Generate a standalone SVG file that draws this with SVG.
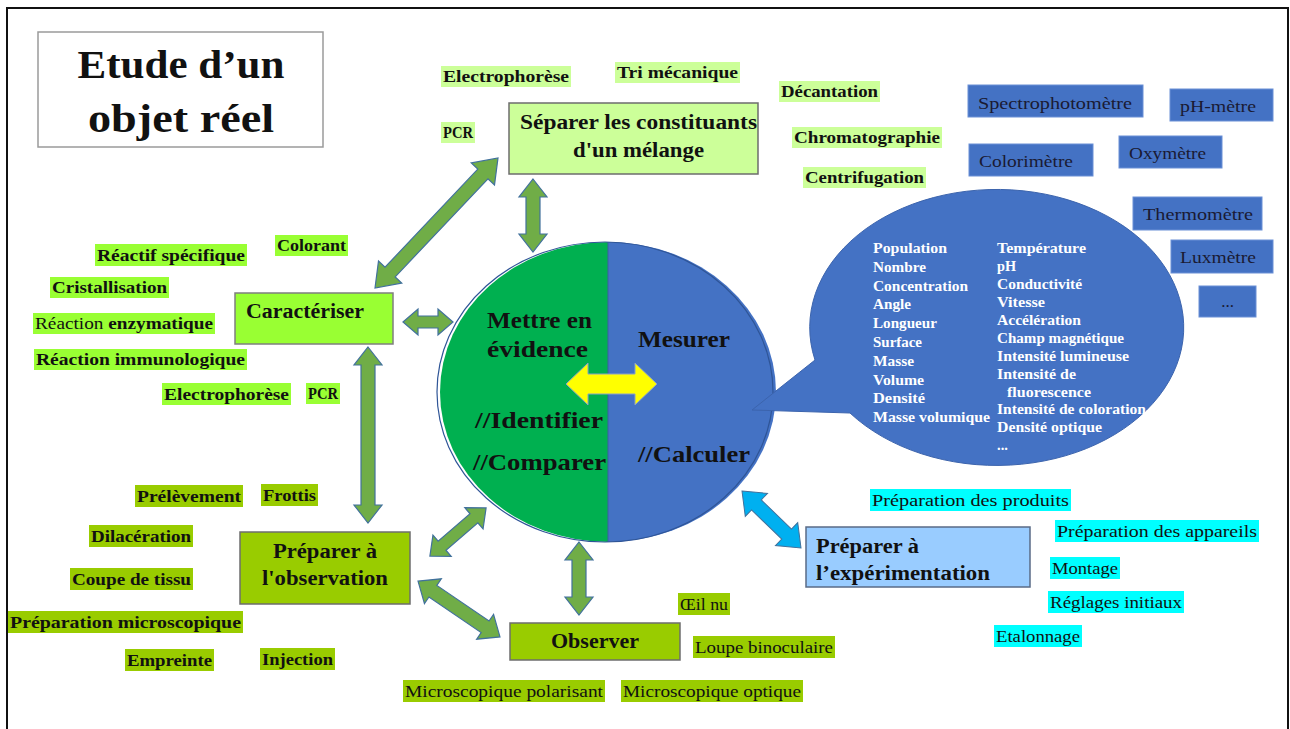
<svg xmlns="http://www.w3.org/2000/svg" width="1290" height="729" viewBox="0 0 1290 729">
<style>
text{font-family:"Liberation Serif","Times New Roman",serif;fill:#111;}
.lbl{font-size:17px;font-weight:bold;}
.lbn{font-size:17px;}
.box{font-size:20px;font-weight:bold;}
.ci{font-size:23px;font-weight:bold;}
.bub{font-size:14.5px;font-weight:bold;fill:#fff;}
.ins{font-size:17px;fill:#1a1a33;}
.ga{fill:#70ad47;stroke:#41719c;stroke-width:1.2;}
.ba{fill:#00b0f0;stroke:#41719c;stroke-width:1;}
.ya{fill:#ffff00;stroke:#8aa0c8;stroke-width:1;}
.hl1{fill:#ccff99;}
.hl2{fill:#99ff33;}
.hl3{fill:#99cc00;}
.hl4{fill:#00ffff;}
.inb{fill:#4472c4;stroke:#6a90d6;stroke-width:1;}
</style>
<rect x="7" y="8" width="1281" height="740" fill="#fff" stroke="#111" stroke-width="2"/>

<g id="title">
<rect x="38" y="32" width="285" height="115" fill="#fff" stroke="#9a9a9a" stroke-width="1.5"/>
<text x="181" y="78" text-anchor="middle" textLength="207" lengthAdjust="spacingAndGlyphs" style="font-size:40px;font-weight:bold">Etude d’un</text>
<text x="181" y="132" text-anchor="middle" textLength="186" lengthAdjust="spacingAndGlyphs" style="font-size:40px;font-weight:bold">objet réel</text>
</g>

<g id="connectors">
<polygon class="ga" transform="translate(436.5,223) rotate(-46.6)" points="-89.5,0 -67.5,-16 -67.5,-7 67.5,-7 67.5,-16 89.5,0 67.5,16 67.5,7 -67.5,7 -67.5,16"/>
<polygon class="ga" transform="translate(533,215.5) rotate(90)" points="-36.5,0 -18.5,-14 -18.5,-7 18.5,-7 18.5,-14 36.5,0 18.5,14 18.5,7 -18.5,7 -18.5,14"/>
<polygon class="ga" transform="translate(428,322)" points="-25,0 -10,-13 -10,-6 10,-6 10,-13 25,0 10,13 10,6 -10,6 -10,13"/>
<polygon class="ga" transform="translate(368,435) rotate(90)" points="-88,0 -70,-14 -70,-7 70,-7 70,-14 88,0 70,14 70,7 -70,7 -70,14"/>
<polygon class="ga" transform="translate(458,532) rotate(-40.6)" points="-37,0 -21,-14 -21,-6 21,-6 21,-14 37,0 21,14 21,6 -21,6 -21,14"/>
<polygon class="ga" transform="translate(459,609) rotate(34.3)" points="-49.6,0 -31.6,-15 -31.6,-7 31.6,-7 31.6,-15 49.6,0 31.6,15 31.6,7 -31.6,7 -31.6,15"/>
<polygon class="ga" transform="translate(579,578.5) rotate(90)" points="-36.5,0 -18.5,-14 -18.5,-7 18.5,-7 18.5,-14 36.5,0 18.5,14 18.5,7 -18.5,7 -18.5,14"/>
<polygon class="ba" transform="translate(771.5,519.5) rotate(44)" points="-41,0 -21,-16 -21,-7 21,-7 21,-16 41,0 21,16 21,7 -21,7 -21,16"/>
</g>

<g id="separer">
<rect x="509" y="103" width="249" height="71" fill="#ccff99" stroke="#6d6d6d" stroke-width="1.5"/>
<text class="box" x="638.5" y="129" text-anchor="middle" textLength="237" lengthAdjust="spacingAndGlyphs">Séparer les constituants</text>
<text class="box" x="638.5" y="157" text-anchor="middle" textLength="131" lengthAdjust="spacingAndGlyphs">d'un mélange</text>
</g>

<g id="separer-labels">
<rect class="hl1" x="441" y="66" width="130" height="21"/><text class="lbl" x="443" y="82" textLength="126" lengthAdjust="spacingAndGlyphs">Electrophorèse</text>
<rect class="hl1" x="615" y="62" width="125" height="21"/><text class="lbl" x="617" y="78" textLength="121" lengthAdjust="spacingAndGlyphs">Tri mécanique</text>
<rect class="hl1" x="779" y="81" width="101" height="21"/><text class="lbl" x="781" y="97" textLength="97" lengthAdjust="spacingAndGlyphs">Décantation</text>
<rect class="hl1" x="441" y="122" width="34" height="21"/><text class="lbl" x="443" y="138" textLength="30" lengthAdjust="spacingAndGlyphs">PCR</text>
<rect class="hl1" x="792" y="127" width="150" height="21"/><text class="lbl" x="794" y="143" textLength="146" lengthAdjust="spacingAndGlyphs">Chromatographie</text>
<rect class="hl1" x="803" y="167" width="123" height="21"/><text class="lbl" x="805" y="183" textLength="119" lengthAdjust="spacingAndGlyphs">Centrifugation</text>
</g>

<g id="caracteriser">
<rect x="235" y="293" width="158" height="51" fill="#99ff33" stroke="#7f7f7f" stroke-width="1.5"/>
<text class="box" x="246" y="318" textLength="118" lengthAdjust="spacingAndGlyphs">Caractériser</text>
</g>

<g id="caracteriser-labels">
<rect class="hl2" x="95" y="244" width="152" height="22"/><text class="lbl" x="97" y="261" textLength="148" lengthAdjust="spacingAndGlyphs">Réactif spécifique</text>
<rect class="hl2" x="275" y="235" width="73" height="21"/><text class="lbl" x="277" y="251" textLength="69" lengthAdjust="spacingAndGlyphs">Colorant</text>
<rect class="hl2" x="50" y="277" width="119" height="21"/><text class="lbl" x="52" y="293" textLength="115" lengthAdjust="spacingAndGlyphs">Cristallisation</text>
<rect class="hl2" x="33" y="313" width="182" height="21"/><text class="lbl" x="35" y="329" textLength="178" lengthAdjust="spacingAndGlyphs"><tspan style="font-weight:normal">Réaction</tspan> enzymatique</text>
<rect class="hl2" x="34" y="349" width="213" height="21"/><text class="lbl" x="36" y="365" textLength="209" lengthAdjust="spacingAndGlyphs">Réaction immunologique</text>
<rect class="hl2" x="162" y="383" width="129" height="22"/><text class="lbl" x="164" y="400" textLength="125" lengthAdjust="spacingAndGlyphs">Electrophorèse</text>
<rect class="hl2" x="306" y="383" width="34" height="21"/><text class="lbl" x="308" y="399" textLength="30" lengthAdjust="spacingAndGlyphs">PCR</text>
</g>

<g id="centre">
<path d="M608,242 A168,150 0 0 0 608,542 Z" fill="#00b050"/>
<path d="M608,242 A168,150 0 0 1 608,542 Z" fill="#4472c4"/>
<ellipse cx="605" cy="392" rx="168" ry="150" fill="none" stroke="#2f5597" stroke-width="1.2"/>
<line x1="608" y1="242" x2="608" y2="542" stroke="#3a5fa0" stroke-width="1"/>
<text class="ci" x="539.5" y="328" text-anchor="middle" textLength="105" lengthAdjust="spacingAndGlyphs">Mettre en</text>
<text class="ci" x="537.5" y="357" text-anchor="middle" textLength="101" lengthAdjust="spacingAndGlyphs">évidence</text>
<text class="ci" x="684" y="347" text-anchor="middle" textLength="92" lengthAdjust="spacingAndGlyphs">Mesurer</text>
<text class="ci" x="475" y="428" textLength="128" lengthAdjust="spacingAndGlyphs">//Identifier</text>
<text class="ci" x="473" y="470" textLength="133" lengthAdjust="spacingAndGlyphs">//Comparer</text>
<text class="ci" x="638" y="462" textLength="112" lengthAdjust="spacingAndGlyphs">//Calculer</text>
<polygon class="ya" transform="translate(611.5,384)" points="-45.5,0 -23.5,-21 -23.5,-10 23.5,-10 23.5,-21 45.5,0 23.5,21 23.5,10 -23.5,10 -23.5,21"/>
</g>

<g id="grandeurs">
<path d="M815,360 A187,138 0 1 1 850,413 L752,410 Z" fill="#4472c4" stroke="#3c64ad" stroke-width="1"/>
<text class="bub" x="873" y="253" textLength="74" lengthAdjust="spacingAndGlyphs">Population</text>
<text class="bub" x="873" y="272" textLength="53" lengthAdjust="spacingAndGlyphs">Nombre</text>
<text class="bub" x="873" y="291" textLength="95" lengthAdjust="spacingAndGlyphs">Concentration</text>
<text class="bub" x="873" y="309" textLength="38" lengthAdjust="spacingAndGlyphs">Angle</text>
<text class="bub" x="873" y="328" textLength="64" lengthAdjust="spacingAndGlyphs">Longueur</text>
<text class="bub" x="873" y="347" textLength="49" lengthAdjust="spacingAndGlyphs">Surface</text>
<text class="bub" x="873" y="366" textLength="41" lengthAdjust="spacingAndGlyphs">Masse</text>
<text class="bub" x="873" y="385" textLength="51" lengthAdjust="spacingAndGlyphs">Volume</text>
<text class="bub" x="873" y="403" textLength="52" lengthAdjust="spacingAndGlyphs">Densité</text>
<text class="bub" x="873" y="422" textLength="117" lengthAdjust="spacingAndGlyphs">Masse volumique</text>
<text class="bub" x="997" y="253" textLength="89" lengthAdjust="spacingAndGlyphs">Température</text>
<text class="bub" x="997" y="271" textLength="19" lengthAdjust="spacingAndGlyphs">pH</text>
<text class="bub" x="997" y="289" textLength="85" lengthAdjust="spacingAndGlyphs">Conductivité</text>
<text class="bub" x="997" y="307" textLength="48" lengthAdjust="spacingAndGlyphs">Vitesse</text>
<text class="bub" x="997" y="325" textLength="84" lengthAdjust="spacingAndGlyphs">Accélération</text>
<text class="bub" x="997" y="343" textLength="127" lengthAdjust="spacingAndGlyphs">Champ magnétique</text>
<text class="bub" x="997" y="361" textLength="132" lengthAdjust="spacingAndGlyphs">Intensité lumineuse</text>
<text class="bub" x="997" y="379" textLength="79" lengthAdjust="spacingAndGlyphs">Intensité de</text>
<text class="bub" x="1007" y="397" textLength="84" lengthAdjust="spacingAndGlyphs">fluorescence</text>
<text class="bub" x="997" y="414" textLength="149" lengthAdjust="spacingAndGlyphs">Intensité de coloration</text>
<text class="bub" x="997" y="432" textLength="105" lengthAdjust="spacingAndGlyphs">Densité optique</text>
<text class="bub" x="997" y="450">...</text>
</g>

<g id="instruments">
<rect class="inb" x="968" y="85" width="175" height="32"/><text class="ins" x="1055" y="109" text-anchor="middle" textLength="154" lengthAdjust="spacingAndGlyphs">Spectrophotomètre</text>
<rect class="inb" x="1170" y="89" width="103" height="32"/><text class="ins" x="1218" y="112" text-anchor="middle" textLength="76" lengthAdjust="spacingAndGlyphs">pH-mètre</text>
<rect class="inb" x="969" y="144" width="124" height="32"/><text class="ins" x="1026" y="167" text-anchor="middle" textLength="94" lengthAdjust="spacingAndGlyphs">Colorimètre</text>
<rect class="inb" x="1119" y="136" width="103" height="32"/><text class="ins" x="1167.5" y="159" text-anchor="middle" textLength="77" lengthAdjust="spacingAndGlyphs">Oxymètre</text>
<rect class="inb" x="1133" y="197" width="129" height="33"/><text class="ins" x="1198" y="220" text-anchor="middle" textLength="110" lengthAdjust="spacingAndGlyphs">Thermomètre</text>
<rect class="inb" x="1171" y="240" width="102" height="33"/><text class="ins" x="1218" y="263" text-anchor="middle" textLength="76" lengthAdjust="spacingAndGlyphs">Luxmètre</text>
<rect class="inb" x="1199" y="286" width="57" height="31"/><text class="ins" x="1227.5" y="307" text-anchor="middle">...</text>
</g>

<g id="preparer-observation">
<rect x="240" y="532" width="170" height="72" fill="#99cc00" stroke="#6d6d6d" stroke-width="1.5"/>
<text class="box" x="325" y="558" text-anchor="middle" textLength="104" lengthAdjust="spacingAndGlyphs">Préparer à</text>
<text class="box" x="325" y="585" text-anchor="middle" textLength="126" lengthAdjust="spacingAndGlyphs">l'observation</text>
</g>

<g id="observation-labels">
<rect class="hl3" x="135" y="485" width="108" height="22"/><text class="lbl" x="137" y="502" textLength="104" lengthAdjust="spacingAndGlyphs">Prélèvement</text>
<rect class="hl3" x="261" y="484" width="57" height="22"/><text class="lbl" x="263" y="501" textLength="53" lengthAdjust="spacingAndGlyphs">Frottis</text>
<rect class="hl3" x="89" y="525" width="104" height="22"/><text class="lbl" x="91" y="542" textLength="100" lengthAdjust="spacingAndGlyphs">Dilacération</text>
<rect class="hl3" x="70" y="568" width="123" height="22"/><text class="lbl" x="72" y="585" textLength="119" lengthAdjust="spacingAndGlyphs">Coupe de tissu</text>
<rect class="hl3" x="8" y="611" width="235" height="22"/><text class="lbl" x="10" y="628" textLength="231" lengthAdjust="spacingAndGlyphs">Préparation microscopique</text>
<rect class="hl3" x="125" y="649" width="89" height="22"/><text class="lbl" x="127" y="666" textLength="85" lengthAdjust="spacingAndGlyphs">Empreinte</text>
<rect class="hl3" x="260" y="648" width="75" height="22"/><text class="lbl" x="262" y="665" textLength="71" lengthAdjust="spacingAndGlyphs">Injection</text>
</g>

<g id="observer">
<rect x="510" y="623" width="170" height="37" fill="#99cc00" stroke="#6d6d6d" stroke-width="1.5"/>
<text class="box" x="595" y="648" text-anchor="middle" textLength="88" lengthAdjust="spacingAndGlyphs">Observer</text>
</g>

<g id="observer-labels">
<rect class="hl3" x="678" y="593" width="52" height="22"/><text class="lbn" x="680" y="610" textLength="48" lengthAdjust="spacingAndGlyphs">Œil nu</text>
<rect class="hl3" x="693" y="636" width="142" height="22"/><text class="lbn" x="695" y="653" textLength="138" lengthAdjust="spacingAndGlyphs">Loupe binoculaire</text>
<rect class="hl3" x="403" y="680" width="202" height="22"/><text class="lbn" x="405" y="697" textLength="198" lengthAdjust="spacingAndGlyphs">Microscopique polarisant</text>
<rect class="hl3" x="621" y="680" width="182" height="22"/><text class="lbn" x="623" y="697" textLength="178" lengthAdjust="spacingAndGlyphs">Microscopique optique</text>
</g>

<g id="preparer-experimentation">
<rect x="806" y="527" width="224" height="60" fill="#99ccff" stroke="#5a6b86" stroke-width="1.5"/>
<text class="box" x="816" y="553" textLength="103" lengthAdjust="spacingAndGlyphs">Préparer à</text>
<text class="box" x="816" y="580" textLength="174" lengthAdjust="spacingAndGlyphs">l’expérimentation</text>
</g>

<g id="experimentation-labels">
<rect class="hl4" x="870" y="489" width="201" height="22"/><text class="lbn" x="872" y="506" textLength="197" lengthAdjust="spacingAndGlyphs">Préparation des produits</text>
<rect class="hl4" x="1055" y="520" width="204" height="22"/><text class="lbn" x="1057" y="537" textLength="200" lengthAdjust="spacingAndGlyphs">Préparation des appareils</text>
<rect class="hl4" x="1050" y="557" width="70" height="22"/><text class="lbn" x="1052" y="574" textLength="66" lengthAdjust="spacingAndGlyphs">Montage</text>
<rect class="hl4" x="1048" y="591" width="136" height="22"/><text class="lbn" x="1050" y="608" textLength="132" lengthAdjust="spacingAndGlyphs">Réglages initiaux</text>
<rect class="hl4" x="994" y="625" width="88" height="22"/><text class="lbn" x="996" y="642" textLength="84" lengthAdjust="spacingAndGlyphs">Etalonnage</text>
</g>
</svg>
